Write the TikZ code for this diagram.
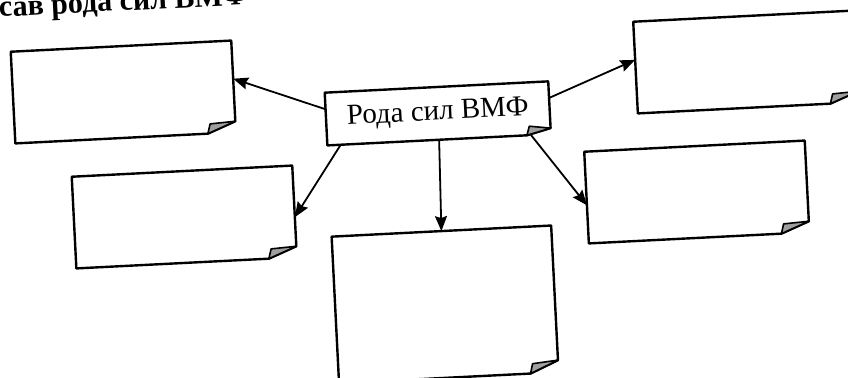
\documentclass[tikz,border=0pt]{standalone}
\usepackage{fontspec}
\setmainfont{Liberation Serif}
\usetikzlibrary{calc,arrows.meta}

\begin{document}
\begin{tikzpicture}[x=0.5pt, y=-0.5pt, font=\fontsize{14.5}{16}\selectfont, line join=round, line cap=round, >={Stealth[length=7.5pt,width=6pt,inset=1pt]},
	note/.style={rotate=2.9, inner sep=0pt, minimum width=110pt, minimum height=45.5pt},
	flap/.style={fill=gray!75, line width=0.8pt}]
	\useasboundingbox (0,0) rectangle (848,378);
	\node[rotate=2.9, anchor=base west, inner sep=0pt, font=\fontsize{15}{17}\selectfont\bfseries] (title) at (-1,17) {сав рода сил ВМФ};
	\node[note, minimum width=111.5pt, minimum height=26pt] (main) at (437.8,113.4) {Рода сил ВМФ};
	\node[note] (nw) at (123.3,92) {};
	\node[note] (w) at (184.3,217) {};
	\node[note, minimum width=109.5pt, minimum height=73pt] (s) at (445.1,304.4) {};
	\node[note] (e) at (696.8,192) {};
	\node[note] (ne) at (745.8,62) {};
	% listy s zagnutym uglom
	\foreach \n/\f/\g in {nw/5.5pt/14pt, w/5.5pt/14pt, s/6pt/14pt, e/5.5pt/14pt, ne/5.5pt/14pt, main/3pt/12pt}{
		\coordinate (\n-a) at ($(\n.south east)!\f!(\n.north east)$);
		\coordinate (\n-b) at ($(\n.south east)!\g!(\n.south west)$);
		\draw[line width=1.2pt] (\n.north west) -- (\n.north east) -- (\n-a) -- (\n-b) -- (\n.south west) -- cycle;
		\draw[flap] (\n-a) -- (\n-b) -- ($(\n-b)!0.2!(\n-a)!4pt!90:(\n-a)$) -- cycle;
	}
	\draw[->, line width=0.9pt] (main.175) -- (nw.4);
	\draw[->, line width=0.9pt] (main.195) -- (w.-3);
	\draw[->, line width=0.9pt] (main.south) -- (s.north);
	\draw[->, line width=0.9pt] (main.-16) -- (e.184);
	\draw[->, line width=0.9pt] (main.5) -- (ne.176);
\end{tikzpicture}
\end{document}
